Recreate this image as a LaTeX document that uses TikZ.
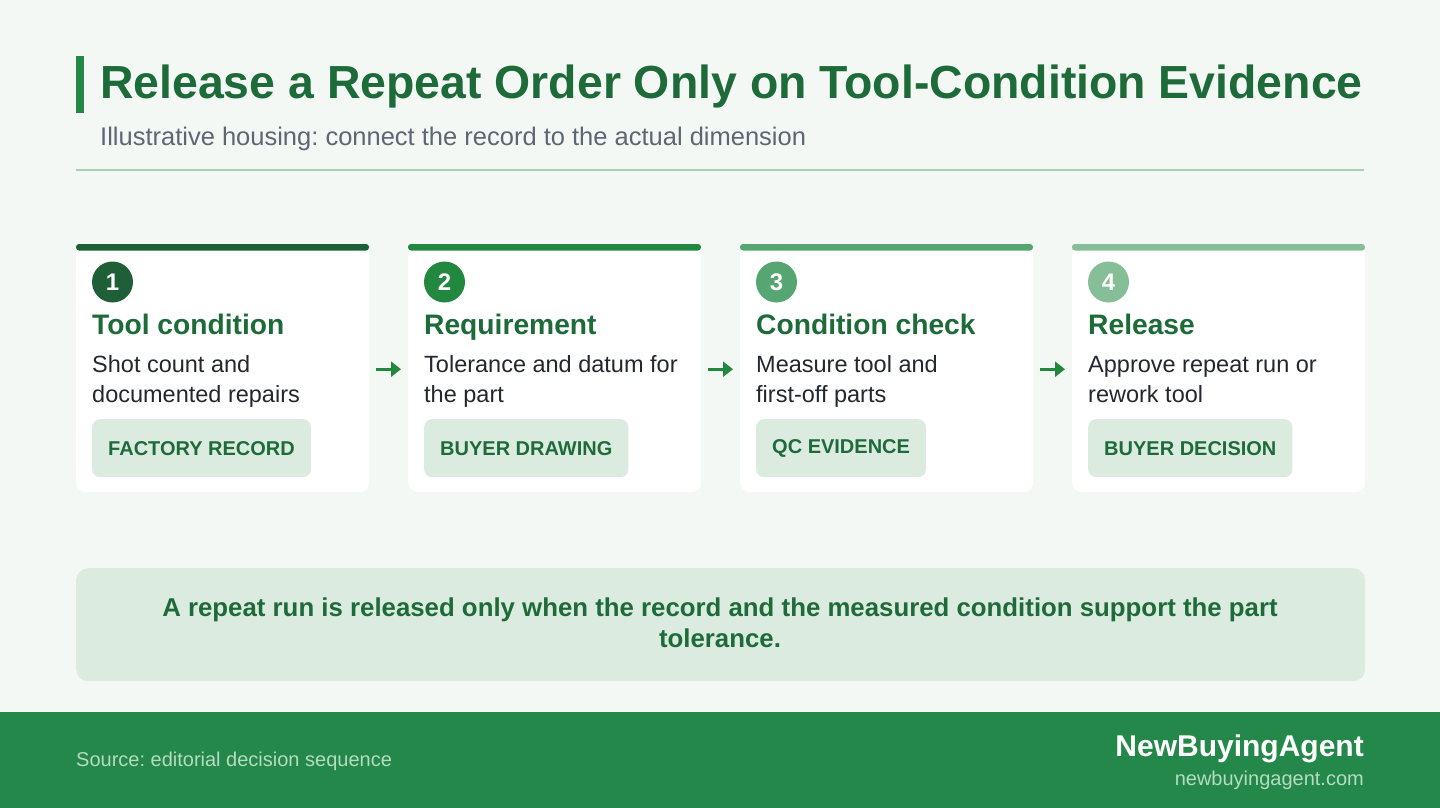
\documentclass[tikz,border=0pt]{standalone}
\usepackage{fontspec}
\setmainfont{Liberation Sans}
\frenchspacing
\usetikzlibrary{arrows.meta}
\definecolor{bg}{HTML}{F4F8F5}
\definecolor{titlegreen}{HTML}{1E6B3A}
\definecolor{accent}{HTML}{23884A}
\definecolor{subgray}{HTML}{5F6673}
\definecolor{sepline}{HTML}{A9D2B3}
\definecolor{tagfill}{HTML}{DCEBE0}
\definecolor{bodytext}{HTML}{23272E}
\definecolor{footlight}{HTML}{B5DBC0}
\definecolor{barA}{HTML}{1F5F37}
\definecolor{barB}{HTML}{22883F}
\definecolor{barC}{HTML}{55A670}
\definecolor{barD}{HTML}{86BF97}
\tikzset{
  cardbox/.style={fill=white, rounded corners=10pt, minimum width=293pt, minimum height=248pt, anchor=north west, inner sep=0pt},
  numdot/.style={circle, minimum size=41pt, inner sep=0pt, text=white, font=\fontsize{24}{24}\selectfont\bfseries},
  headtxt/.style={anchor=base west, inner sep=0pt, text=titlegreen, font=\fontsize{28.2}{30}\selectfont\bfseries},
  bodytxt/.style={anchor=base west, inner sep=0pt, text=bodytext, font=\fontsize{23.5}{28}\selectfont},
  tagbox/.style={fill=tagfill, rounded corners=8pt, anchor=north west, minimum height=58pt, inner xsep=16pt, text=titlegreen, font=\fontsize{20}{22}\selectfont\bfseries},
  flowarrow/.style={draw=barB, line width=3pt, -{Triangle[length=10pt,width=15pt]}}
}
\begin{document}
\begin{tikzpicture}[x=1pt,y=-1pt]
\fill[bg] (0,0) rectangle (1440,808);
\useasboundingbox (0,0) rectangle (1440,808);
% header
\fill[accent] (76,56) rectangle (84,113);
\node[anchor=base west, inner sep=0pt, text=titlegreen, font=\fontsize{46.4}{50}\selectfont\bfseries] (title) at (100,98) {Release a Repeat Order Only on Tool-Condition Evidence};
\node[anchor=base west, inner sep=0pt, text=subgray, font=\fontsize{25.5}{28}\selectfont] (subtitle) at (100,145) {Illustrative housing: connect the record to the actual dimension};
\draw[sepline, line width=1.5pt] (76,170) -- (1364,170);
% cards
\foreach \i/\x/\col/\head/\la/\lb/\tag in {
  1/76/barA/Tool condition/Shot count and/documented repairs/FACTORY RECORD,
  2/408/barB/Requirement/Tolerance and datum for/the part/BUYER DRAWING,
  3/740/barC/Condition check/Measure tool and/first-off parts/QC EVIDENCE,
  4/1072/barD/Release/Approve repeat run or/rework tool/BUYER DECISION}{
  \node[cardbox] (c\i) at (\x,244) {};
  \fill[\col, rounded corners=3pt] (\x,244) rectangle (\x+293,250.5);
  \node[numdot, fill=\col] (n\i) at (\x+36.5,282) {\i};
  \node[headtxt] (h\i) at (\x+16,334) {\head};
  \node[bodytxt] (a\i) at (\x+16,372.5) {\la};
  \node[bodytxt] (b\i) at (\x+16,402) {\lb};
  \node[tagbox] (t\i) at (\x+16,419) {\tag};
}
\foreach \i/\j in {1/2,2/3,3/4}{
  \draw[flowarrow] ([xshift=7pt,yshift=-1pt]c\i.east) -- ([xshift=-7pt,yshift=-1pt]c\j.west);
}
% bottom note
\node[fill=tagfill, rounded corners=12pt, anchor=north west, minimum width=1289pt, minimum height=113pt, inner sep=0pt] (note) at (76,568) {};
\node[anchor=base, inner sep=0pt, text=titlegreen, font=\fontsize{25.8}{28}\selectfont\bfseries] (noteA) at (720,616) {A repeat run is released only when the record and the measured condition support the part};
\node[anchor=base, inner sep=0pt, text=titlegreen, font=\fontsize{25.8}{28}\selectfont\bfseries] (noteB) at (720,647) {tolerance.};
% footer
\fill[accent] (0,712) rectangle (1440,808);
\node[anchor=base west, inner sep=0pt, text=footlight, font=\fontsize{20}{22}\selectfont] (src) at (76,766) {Source: editorial decision sequence};
\node[anchor=base east, inner sep=0pt, text=white, font=\fontsize{30}{32}\selectfont\bfseries] (brand) at (1364,756) {NewBuyingAgent};
\node[anchor=base east, inner sep=0pt, text=footlight, font=\fontsize{20}{22}\selectfont] (url) at (1364,785) {newbuyingagent.com};
\end{tikzpicture}
\end{document}
